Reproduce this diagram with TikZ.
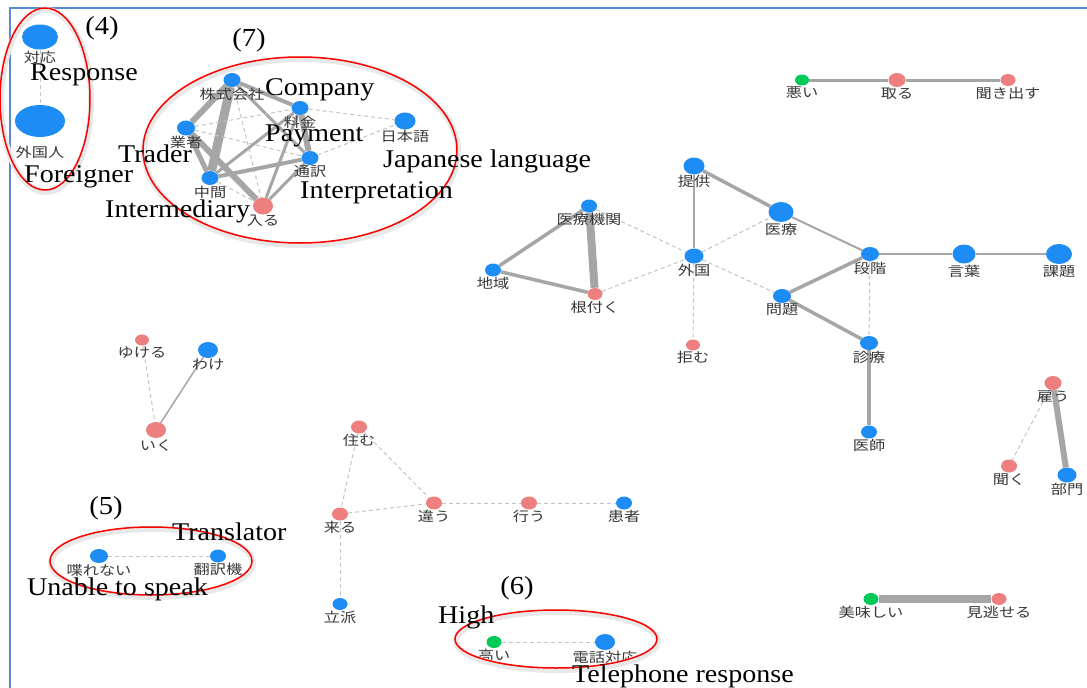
\documentclass[tikz,border=0pt]{standalone}
\usepackage{fontspec}
\setmainfont{Liberation Serif}
\newfontfamily\jpfont[FakeStretch=1.2]{Noto Sans CJK JP}
\newfontfamily\enfont[FakeStretch=1.1]{Liberation Serif}
\usetikzlibrary{shapes.geometric,backgrounds}

\definecolor{nblue}{HTML}{1E8CF5}
\definecolor{nred}{HTML}{EE7F7F}
\definecolor{ngreen}{HTML}{00C957}
\definecolor{edgegray}{HTML}{A6A6A6}
\definecolor{dashgray}{HTML}{C4C4C4}
\definecolor{labgray}{HTML}{383838}
\definecolor{framebl}{HTML}{5A8AD2}

\tikzset{
  wnode/.style={ellipse, inner sep=0pt, draw=none},
  bnode/.style={wnode, fill=nblue},
  rnode/.style={wnode, fill=nred},
  gnode/.style={wnode, fill=ngreen},
  lab/.style={font=\jpfont\fontsize{13.5}{14}\selectfont, text=labgray,
    inner sep=0.5pt},
  en/.style={font=\enfont\fontsize{25.5}{26}\selectfont, anchor=base west,
    inner sep=0pt},
  tag/.style={font=\enfont\fontsize{26}{26}\selectfont, inner sep=0pt},
  ln/.style={draw=edgegray, line width=#1},
  ln/.default=2pt,
  dl/.style={draw=dashgray, line width=1pt, dash pattern=on 4pt off 3pt},
  group/.style={draw=red, line width=1.5pt},
  groupshade/.style={draw=black!9, line width=6pt},
}

% [label gap] name, style, x, y, width, height, label
\newcommand\wordnode[8][0pt]{\node[#3, minimum width=#6, minimum height=#7,
  label={[lab, label distance=#1]below:#8}] (#2) at (#4,#5) {};}

\begin{document}
\begin{tikzpicture}[x=1pt,y=-1pt]
\useasboundingbox (0,0) rectangle (1087,688);

% ---- word nodes ----
% group (4)
\wordnode[1pt]{taiou}{bnode}{40}{37}{36}{25}{対応}
\wordnode[8pt]{gaikokujin}{bnode}{40}{121}{50}{32}{外国人}
% group (7)
\wordnode{kaisha}{bnode}{232}{80}{17}{14}{株式会社}
\wordnode{ryoukin}{bnode}{300}{108}{17}{14}{料金}
\wordnode{gyousha}{bnode}{186}{128}{18}{15}{業者}
\wordnode{tsuuyaku}{bnode}{310}{158}{17}{14}{通訳}
\wordnode{chuukan}{bnode}{210}{178}{17}{14}{中間}
\wordnode{hairu}{rnode}{263}{206}{20}{17}{入る}
\wordnode{nihongo}{bnode}{405}{121}{21}{17}{日本語}
% chain top right
\wordnode{warui}{gnode}{802}{80}{14}{11}{悪い}
\wordnode{toru}{rnode}{897}{80}{17}{14}{取る}
\wordnode{kikidasu}{rnode}{1008}{80}{15}{12}{聞き出す}
% central network
\wordnode{teikyou}{bnode}{694}{166}{21}{17}{提供}
\wordnode{iryoukikan}{bnode}{589}{206}{16}{13}{医療機関}
\wordnode{iryou}{bnode}{781}{212}{25}{20}{医療}
\wordnode{gaikoku}{bnode}{694}{256}{19}{15}{外国}
\wordnode{chiiki}{bnode}{493}{270}{16}{13}{地域}
\wordnode{nezuku}{rnode}{595}{294}{15}{12}{根付く}
\wordnode{dankai}{bnode}{870}{254}{18}{14}{段階}
\wordnode[1pt]{kotoba}{bnode}{964}{254}{23}{19}{言葉}
\wordnode[1pt]{kadai}{bnode}{1059}{254}{26}{20}{課題}
\wordnode{mondai}{bnode}{782}{296}{18}{14}{問題}
\wordnode{kobamu}{rnode}{693}{345}{14}{11}{拒む}
\wordnode{shinryou}{bnode}{869}{343}{18}{14}{診療}
\wordnode{ishi}{bnode}{869}{432}{16}{13}{医師}
% small left network
\wordnode{yukeru}{rnode}{142}{340}{14}{11}{ゆける}
\wordnode{wake}{bnode}{208}{350}{20}{16}{わけ}
\wordnode[1pt]{iku}{rnode}{156}{430}{20}{16}{いく}
% group (5)
\wordnode{shaberenai}{bnode}{99}{556}{18}{14}{喋れない}
\wordnode{honyakuki}{bnode}{218}{556}{16}{13}{翻訳機}
% lower middle network
\wordnode{sumu}{rnode}{359}{427}{16}{13}{住む}
\wordnode{kuru}{rnode}{340}{514}{16}{13}{来る}
\wordnode{chigau}{rnode}{434}{503}{16}{13}{違う}
\wordnode{okonau}{rnode}{529}{503}{16}{13}{行う}
\wordnode{kanja}{bnode}{624}{503}{16}{13}{患者}
\wordnode{rippa}{bnode}{340}{604}{15}{12}{立派}
% group (6)
\wordnode{takai}{gnode}{494}{642}{15}{12}{高い}
\wordnode{denwa}{bnode}{605}{642}{20}{16}{電話対応}
% right side
\wordnode{yatou}{rnode}{1053}{383}{17}{14}{雇う}
\wordnode{kiku}{rnode}{1009}{466}{16}{13}{聞く}
\wordnode{bumon}{bnode}{1067}{475}{19}{15}{部門}
\wordnode{oishii}{gnode}{871}{599}{15}{12}{美味しい}
\wordnode{minogaseru}{rnode}{999}{599}{15}{12}{見逃せる}

% ---- connectors ----
\begin{scope}[on background layer]
  \fill[white] (0,0) rectangle (1087,688);
  % group (4)
  \draw[dl] (taiou) -- (gaikokujin);
  % group (7)
  \draw[ln=6pt] (kaisha) -- (gyousha);
  \draw[ln=9pt] (kaisha) -- (chuukan);
  \draw[ln=4pt] (kaisha) -- (ryoukin);
  \draw[ln=3pt] (kaisha) -- (tsuuyaku);
  \draw[dl] (kaisha) -- (hairu);
  \draw[ln=5pt] (gyousha) -- (chuukan);
  \draw[ln=6pt] (gyousha) -- (hairu);
  \draw[dl] (gyousha) -- (ryoukin);
  \draw[dl] (gyousha) -- (tsuuyaku);
  \draw[ln=3pt] (chuukan) -- (ryoukin);
  \draw[ln=4pt] (chuukan) -- (tsuuyaku);
  \draw[dl] (chuukan) -- (hairu);
  \draw[ln=6pt] (ryoukin) -- (tsuuyaku);
  \draw[ln=3pt] (ryoukin) -- (hairu);
  \draw[ln=3pt] (tsuuyaku) -- (hairu);
  \draw[dl] (ryoukin) -- (nihongo);
  \draw[dl] (tsuuyaku) -- (nihongo);
  % chain top right
  \draw[ln=3pt] (warui) -- (toru);
  \draw[ln=3pt] (toru) -- (kikidasu);
  % central network
  \draw[ln=2pt] (teikyou) -- (gaikoku);
  \draw[ln=3.5pt] (teikyou) -- (iryou);
  \draw[dl] (iryoukikan) -- (gaikoku);
  \draw[ln=3.5pt] (iryoukikan) -- (chiiki);
  \draw[ln=8pt] (iryoukikan) -- (nezuku);
  \draw[ln=3.5pt] (chiiki) -- (nezuku);
  \draw[dl] (nezuku) -- (gaikoku);
  \draw[dl] (gaikoku) -- (iryou);
  \draw[dl] (gaikoku) -- (mondai);
  \draw[dl] (gaikoku) -- (kobamu);
  \draw[ln=2pt] (iryou) -- (dankai);
  \draw[ln=2.5pt] (dankai) -- (kotoba);
  \draw[ln=2pt] (kotoba) -- (kadai);
  \draw[ln=3.5pt] (dankai) -- (mondai);
  \draw[dl] (dankai) -- (shinryou);
  \draw[ln=3.5pt] (mondai) -- (shinryou);
  \draw[ln=4pt] (shinryou) -- (ishi);
  % small left network
  \draw[dl] (yukeru) -- (iku);
  \draw[ln=1.5pt] (wake) -- (iku);
  % group (5)
  \draw[dl] (shaberenai) -- (honyakuki);
  % lower middle network
  \draw[dl] (sumu) -- (kuru);
  \draw[dl] (sumu) -- (chigau);
  \draw[dl] (kuru) -- (chigau);
  \draw[dl] (chigau) -- (okonau);
  \draw[dl] (okonau) -- (kanja);
  \draw[dl] (kuru) -- (rippa);
  % group (6)
  \draw[dl] (takai) -- (denwa);
  % right side
  \draw[dl] (yatou) -- (kiku);
  \draw[ln=6pt] (yatou) -- (bumon);
  \draw[ln=8pt] (oishii) -- (minogaseru);
\end{scope}

% ---- frame ----
\draw[framebl, line width=1.5pt] (10,688) -- (10,8) -- (1087,8);

% ---- group outlines ----
\draw[groupshade] (46,101) ellipse [x radius=45, y radius=91];
\draw[groupshade] (301,152) ellipse [x radius=157, y radius=93];
\draw[groupshade] (152,563) ellipse [x radius=101, y radius=34];
\draw[groupshade] (557,641) ellipse [x radius=101, y radius=29];
\draw[group] (45,99) ellipse [x radius=45, y radius=91];
\draw[group] (300,150) ellipse [x radius=157, y radius=93];
\draw[group] (151,561) ellipse [x radius=101, y radius=34];
\draw[group] (556,639) ellipse [x radius=101, y radius=29];

% ---- group tags ----
\node[tag] (tag4) at (102,28) {(4)};
\node[tag] (tag7) at (249,40) {(7)};
\node[tag] (tag5) at (106,508) {(5)};
\node[tag] (tag6) at (517,588) {(6)};

% ---- English glosses ----
\node[en] (gResponse) at (30,80) {Response};
\node[en] (gForeigner) at (24,182) {Foreigner};
\node[en] (gCompany) at (265,95) {Company};
\node[en] (gPayment) at (265,141) {Payment};
\node[en] (gTrader) at (118,162) {Trader};
\node[en] (gJapanese) at (383,167) {Japanese language};
\node[en] (gInterp) at (300,198) {Interpretation};
\node[en] (gInterm) at (105,217) {Intermediary};
\node[en] (gTranslator) at (172,540) {Translator};
\node[en] (gUnable) at (27,595) {Unable to speak};
\node[en] (gHigh) at (438,623) {High};
\node[en] (gTel) at (572,682) {Telephone response};
\end{tikzpicture}
\end{document}
